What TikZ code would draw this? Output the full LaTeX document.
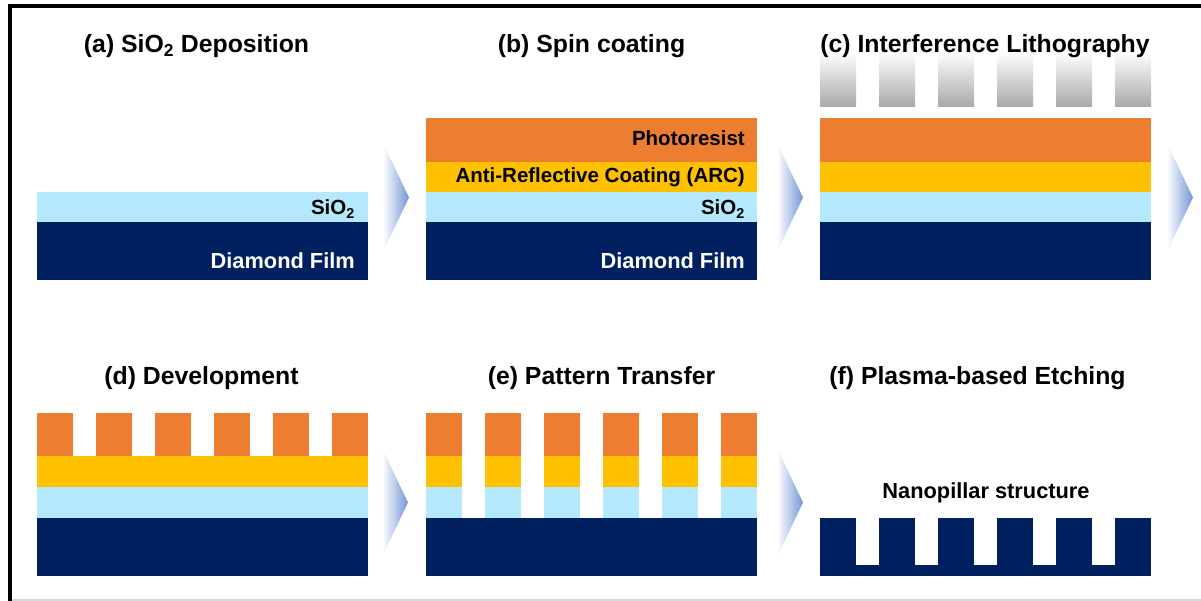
\documentclass[tikz,border=0pt]{standalone}
\usepackage{fontspec}
\setmainfont{Liberation Sans}

\definecolor{resist}{HTML}{ED7D31}
\definecolor{coating}{HTML}{FFC000}
\definecolor{oxide}{HTML}{B4E8FD}
\definecolor{diamond}{HTML}{002060}
\definecolor{arrowblue}{HTML}{7396D6}
\definecolor{maskgray}{HTML}{A8A8A8}

\tikzset{
    paneltitle/.style = {font = \fontsize{24.8}{28}\selectfont\bfseries, anchor = base, inner sep = 0},
    layertext/.style  = {font = \fontsize{20.5}{24}\selectfont\bfseries, anchor = base east, inner sep = 0},
    bigtext/.style    = {layertext, font = \fontsize{21.8}{25}\selectfont\bfseries},
}

% process step arrow
\newcommand\steparrow[2]{%
    \shade [left color = white, right color = arrowblue]
        (#1, #2) -- ++(26, 54.5) -- ++(-26, 54.5) -- cycle;}

\begin{document}
\begin{tikzpicture}[x = 1pt, y = -1pt]

    \def\xa {37}
    \def\xb {426}
    \def\xc {820}
    \def\w  {331}

    \useasboundingbox (0, 0) rectangle (1201, 601);

    % frame
    \draw [black!15, line width = 1.5] (11, 600) -- (1201, 600);
    \draw [line width = 4] (9.5, 601) -- (9.5, 6) -- (1201, 6);

    % (a) SiO2 deposition
    \path [fill = oxide]   (\xa, 192) rectangle ++(\w, 30);
    \path [fill = diamond] (\xa, 222) rectangle ++(\w, 58);
    \node (titleA) [paneltitle] at (196.5, 53) {(a) SiO\textsubscript{2} Deposition};
    \node (oxideA) [layertext] at (\xa + \w - 13, 215) {SiO\textsubscript{2}};
    \node (diamA)  [bigtext, text = white] at (\xa + \w - 13, 269) {Diamond Film};

    % (b) spin coating
    \path [fill = resist]  (\xb, 118) rectangle ++(\w, 44);
    \path [fill = coating] (\xb, 162) rectangle ++(\w, 30);
    \path [fill = oxide]   (\xb, 192) rectangle ++(\w, 30);
    \path [fill = diamond] (\xb, 222) rectangle ++(\w, 58);
    \node (titleB)  [paneltitle] at (591.5, 53) {(b) Spin coating};
    \node (resistB) [layertext] at (\xb + \w - 12, 146) {Photoresist};
    \node (arcB)    [layertext] at (\xb + \w - 12, 183) {Anti-Reflective Coating (ARC)};
    \node (oxideB)  [layertext] at (\xb + \w - 12, 215) {SiO\textsubscript{2}};
    \node (diamB)   [bigtext, text = white] at (\xb + \w - 12, 269) {Diamond Film};

    % (c) interference lithography
    \path [fill = resist]  (\xc, 118) rectangle ++(\w, 44);
    \path [fill = coating] (\xc, 162) rectangle ++(\w, 30);
    \path [fill = oxide]   (\xc, 192) rectangle ++(\w, 30);
    \path [fill = diamond] (\xc, 222) rectangle ++(\w, 58);
    \foreach \i in {0, ..., 5}
        \shade [top color = white, bottom color = maskgray] (\xc + \i * 59, 52) rectangle ++(36, 55);
    \node (titleC) [paneltitle] at (985, 53) {(c) Interference Lithography};

    % (d) development
    \foreach \i in {0, ..., 5}
        \path [fill = resist] (\xa + \i * 59, 413) rectangle ++(36, 43);
    \path [fill = coating] (\xa, 456) rectangle ++(\w, 31);
    \path [fill = oxide]   (\xa, 487) rectangle ++(\w, 31);
    \path [fill = diamond] (\xa, 518) rectangle ++(\w, 58);
    \node (titleD) [paneltitle] at (201.5, 384) {(d) Development};

    % (e) pattern transfer
    \foreach \i in {0, ..., 5} {
        \path [fill = resist]  (\xb + \i * 59, 413) rectangle ++(36, 43);
        \path [fill = coating] (\xb + \i * 59, 456) rectangle ++(36, 31);
        \path [fill = oxide]   (\xb + \i * 59, 487) rectangle ++(36, 31);
    }
    \path [fill = diamond] (\xb, 518) rectangle ++(\w, 58);
    \node (titleE) [paneltitle] at (601.5, 384) {(e) Pattern Transfer};

    % (f) plasma-based etching
    \foreach \i in {0, ..., 5}
        \path [fill = diamond] (\xc + \i * 59, 518) rectangle ++(36, 48);
    \path [fill = diamond] (\xc, 565) rectangle ++(\w, 11);
    \node (titleF) [paneltitle] at (977.5, 384) {(f) Plasma-based Etching};
    \node (pillarF) [bigtext, anchor = base] at (986, 498) {Nanopillar structure};

    % arrows
    \steparrow{383}{143}
    \steparrow{777}{143}
    \steparrow{1167}{143}
    \steparrow{382}{448}
    \steparrow{777}{448}

\end{tikzpicture}
\end{document}
